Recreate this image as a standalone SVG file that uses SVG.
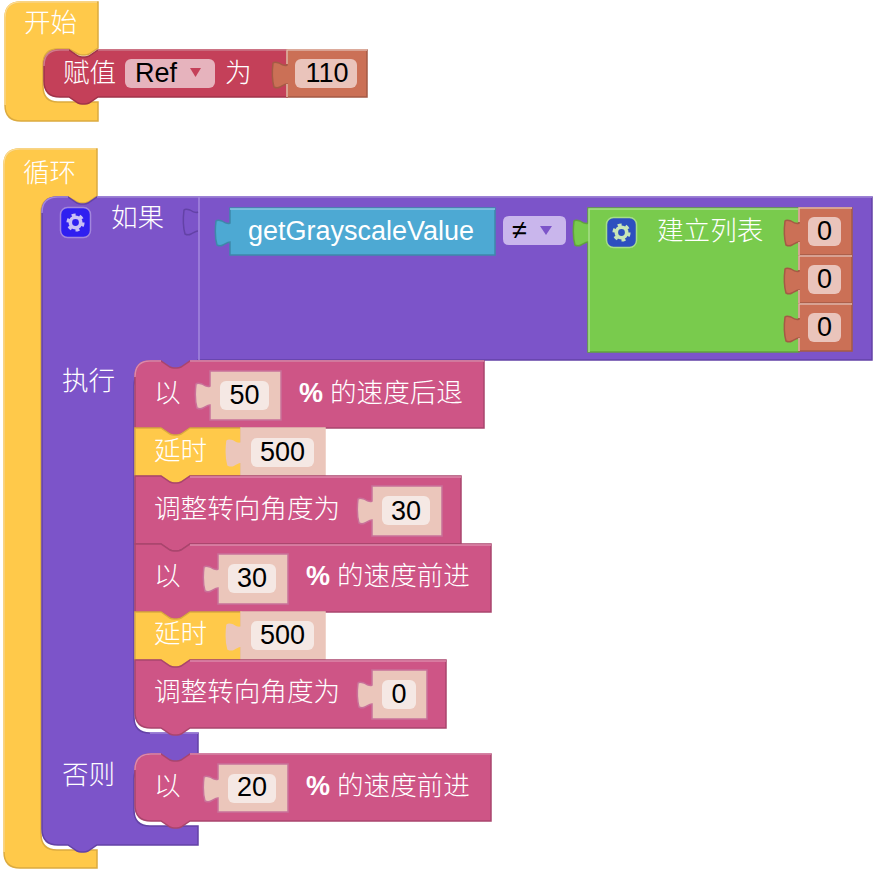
<svg xmlns="http://www.w3.org/2000/svg" width="878" height="873" viewBox="0 0 878 873">
<style>
text{font-family:"Noto Sans CJK SC","Liberation Sans",sans-serif;font-size:26.6px;font-weight:300;fill:#fff}
.l{font-family:"Liberation Sans","Noto Sans CJK SC",sans-serif;font-size:27px;font-weight:400;fill:#000}
.m{text-anchor:middle}
.b{font-weight:700}
path,rect{stroke-width:1.5}
.hl{fill:none;stroke-width:1.5}
.yel{fill:#ffc94a;stroke:#dcab3f}.yelh{stroke:#ffdb8a}
.red{fill:#c44059;stroke:#a03349}.redh{stroke:#d37a8a}
.pur{fill:#7c54c9;stroke:#6342a6}.purh{stroke:#a386dd}
.pnk{fill:#ce5586;stroke:#a9456d}.pnkh{stroke:#dd88aa}
.blu{fill:#4da9d3;stroke:#3e88aa}.bluh{stroke:#8ac7e3}
.grn{fill:#79cb4d;stroke:#60a33d}.grnh{stroke:#a6de88}
.org{fill:#cb7056;stroke:#a45a45}.orgh{stroke:#e8b9aa}
.pal{fill:#ebc6bb;stroke:#c9719a}
.palp{fill:#ebc6bb;stroke:#ebc6bb}
.f1{fill:#e6b3bd;stroke:none}.f2{fill:#eac4bb;stroke:none}.f3{fill:#f5e8e4;stroke:none}.f4{fill:#c9b6ec;stroke:none}
.sock{fill:none;stroke-width:1.5}
</style>
<defs>
<g id="gear" fill="none" stroke="currentColor">
<circle r="5.2" stroke-width="3.6"/>
<circle r="7.6" stroke-width="3" stroke-dasharray="3.9 4.05"/>
</g>
</defs>

<g id="start-block">
<path class="yel" d="M5 18Q5 2 21 2H98V48l-9 6q-2 1 -4 1h-3q-2 0 -4 -1l-9 -5H58Q43 49 43 65V86Q43 102 58 102H98V121H21Q5 121 5 105Z"/>
<path class="hl yelh" d="M5 105V18Q5 2 21 2H97"/>
<text x="24" y="32">开始</text>
</g>
<g id="set-ref">
<path class="red" d="M60 50H69l9 6q2 1 4 1h3q2 0 4 -1l9 -6H287V97H98l-9 6q-2 1 -4 1h-3q-2 0 -4 -1l-9 -6H60Q44 97 44 81V66Q44 50 60 50Z"/>
<path class="hl redh" d="M44 66Q44 50 60 50H69M98 50H287"/>
<text x="63" y="82">赋值</text>
<rect class="f1" x="125" y="59" width="90" height="29" rx="6"/>
<text class="l" x="135" y="82">Ref</text>
<path d="M190 68h11l-5.500 9Z" fill="#c44059" stroke="none"/>
<text x="225" y="82">为</text>
</g>
<g id="value-110">
<path class="org" d="M287 50V64v1c-2 1 -5 0 -8 -2c-3 -1 -5 -1 -6 0c-1 8 -1 17 1 24c2 1 4 1 6 0c2 -1 5 -3 7 -3V97H367V50Z"/>
<path class="hl orgh" d="M287 97V84M287 64V50H367"/>
<rect class="f2" x="295" y="59" width="62" height="29" rx="6"/>
<text class="l m" x="327" y="82">110</text>
</g>

<g id="loop-block">
<path class="yel" d="M4 165Q4 149 20 149H97V196l-9 6q-2 1 -4 1h-3q-2 0 -4 -1l-9 -5H57Q41 197 41 213V834Q41 850 57 850H97V868H20Q4 868 4 852Z"/>
<path class="hl yelh" d="M4 852V165Q4 149 20 149H96"/>
<text x="23" y="182">循环</text>
</g>

<g id="if-block">
<path class="pur" d="M58 197H68l9 6q2 1 4 1h3q2 0 4 -1l9 -6H872V360H198V370H150Q134 370 134 386V717Q134 733 150 733H198V763H150Q134 763 134 779V810Q134 826 150 826H198V845H97l-9 6q-2 1 -4 1h-3q-2 0 -4 -1l-9 -6H58Q42 845 42 829V213Q42 197 58 197Z"/>
<path class="hl purh" d="M42 213Q42 197 58 197H68M97 197H872M199 197V360M150 733H198"/>
<path class="sock" stroke="#6342a6" d="M198 212c-2 1 -5 0 -8 -2c-3 -1 -5 -1 -6 0c-1 8 -1 17 1 24c2 1 4 1 6 0c2 -1 5 -3 7 -3"/>
<rect x="60.500" y="207.500" width="30" height="30" rx="7" fill="#2f1ff0" stroke="#a386dd"/>
<use href="#gear" x="75.500" y="222.500" color="#c9c0f5"/>
<text x="111" y="227">如果</text>
<text x="62" y="390">执行</text>
<text x="62" y="784">否则</text>
<path d="M509 216h51q6 0 6 6v17q0 6 -6 6h-51q-6 0 -6 -6v-17q0 -6 6 -6Z" class="f4"/>
<text class="l" x="512" y="239">≠</text>
<path d="M540 226h12l-6 9Z" fill="#7c54c9" stroke="none"/>
</g>

<g id="get-grayscale">
<path class="blu" d="M230 208V222v1c-2 1 -5 0 -8 -2c-3 -1 -5 -1 -6 0c-1 8 -1 17 1 24c2 1 4 1 6 0c2 -1 5 -3 7 -3V255H495V208Z"/>
<path class="hl bluh" d="M230 209H495"/>
<text class="l" style="fill:#fff" x="248" y="240">getGrayscaleValue</text>
</g>

<g id="create-list">
<path class="grn" d="M588 208V222v1c-2 1 -5 0 -8 -2c-3 -1 -5 -1 -6 0c-1 8 -1 17 1 24c2 1 4 1 6 0c2 -1 5 -3 7 -3V352H799V208Z"/>
<path class="hl grnh" d="M589 352V209H799"/>
<rect x="606.500" y="217.500" width="30" height="30" rx="7" fill="#2d4fbf" stroke="#a6de88"/>
<use href="#gear" x="621.500" y="232.500" color="#c9e6b8"/>
<text x="657" y="240">建立列表</text>
</g>
<g id="list-item-1">
<path class="org" d="M799 208V222v1c-2 1 -5 0 -8 -2c-3 -1 -5 -1 -6 0c-1 8 -1 17 1 24c2 1 4 1 6 0c2 -1 5 -3 7 -3V255H852V208Z"/>
<path class="hl orgh" d="M799 255V242M799 222V208H852"/>
<rect class="f2" x="808" y="217" width="33" height="29" rx="6"/>
<text class="l m" x="824.500" y="240">0</text>
</g>
<g id="list-item-2">
<path class="org" d="M799 256V270v1c-2 1 -5 0 -8 -2c-3 -1 -5 -1 -6 0c-1 8 -1 17 1 24c2 1 4 1 6 0c2 -1 5 -3 7 -3V303H852V256Z"/>
<path class="hl orgh" d="M799 303V290M799 270V256H852"/>
<rect class="f2" x="808" y="265" width="33" height="29" rx="6"/>
<text class="l m" x="824.500" y="288">0</text>
</g>
<g id="list-item-3">
<path class="org" d="M799 304V318v1c-2 1 -5 0 -8 -2c-3 -1 -5 -1 -6 0c-1 8 -1 17 1 24c2 1 4 1 6 0c2 -1 5 -3 7 -3V351H852V304Z"/>
<path class="hl orgh" d="M799 351V338M799 318V304H852"/>
<rect class="f2" x="808" y="313" width="33" height="29" rx="6"/>
<text class="l m" x="824.500" y="336">0</text>
</g>

<g id="back-50">
<path class="pnk" d="M150 361H161l9 6q2 1 4 1h3q2 0 4 -1l9 -6H484V428H190l-9 6q-2 1 -4 1h-3q-2 0 -4 -1l-9 -6H135V377Q135 361 150 361Z"/>
<path class="hl pnkh" d="M135 377Q135 361 150 361H161M190 361H484"/>
<path class="pal" d="M210 371V385v1c-2 1 -5 0 -8 -2c-3 -1 -5 -1 -6 0c-1 8 -1 17 1 24c2 1 4 1 6 0c2 -1 5 -3 7 -3V420H281V371Z"/>
<rect class="f3" x="220" y="381" width="49" height="29" rx="6"/>
<text x="154" y="402">以</text>
<text class="l m" x="244.500" y="404">50</text>
<text class="l b" style="fill:#fff" x="299" y="402">%</text>
<text x="330" y="402">的速度后退</text>
</g>

<g id="delay-1">
<path class="yel" d="M135 428H161l9 6q2 1 4 1h3q2 0 4 -1l9 -6H241V476H190l-9 6q-2 1 -4 1h-3q-2 0 -4 -1l-9 -6H135Z"/>
<path class="palp" d="M241 428V442v1c-2 1 -5 0 -8 -2c-3 -1 -5 -1 -6 0c-1 8 -1 17 1 24c2 1 4 1 6 0c2 -1 5 -3 7 -3V476H325V428Z"/>
<rect class="f3" x="251" y="438" width="63" height="29" rx="6"/>
<text x="154" y="460">延时</text>
<text class="l m" x="282.500" y="461">500</text>
</g>

<g id="steer-30">
<path class="pnk" d="M135 476H161l9 6q2 1 4 1h3q2 0 4 -1l9 -6H461V544H190l-9 6q-2 1 -4 1h-3q-2 0 -4 -1l-9 -6H135Z"/>
<path class="hl pnkh" d="M190 477H461"/>
<path class="pal" d="M372 486V500v1c-2 1 -5 0 -8 -2c-3 -1 -5 -1 -6 0c-1 8 -1 17 1 24c2 1 4 1 6 0c2 -1 5 -3 7 -3V536H442V486Z"/>
<rect class="f3" x="382" y="496" width="48" height="29" rx="6"/>
<text x="154" y="518">调整转向角度为</text>
<text class="l m" x="406" y="520">30</text>
</g>

<g id="forward-30">
<path class="pnk" d="M135 544H161l9 6q2 1 4 1h3q2 0 4 -1l9 -6H491V612H190l-9 6q-2 1 -4 1h-3q-2 0 -4 -1l-9 -6H135Z"/>
<path class="hl pnkh" d="M190 545H491"/>
<path class="pal" d="M218 554V568v1c-2 1 -5 0 -8 -2c-3 -1 -5 -1 -6 0c-1 8 -1 17 1 24c2 1 4 1 6 0c2 -1 5 -3 7 -3V604H288V554Z"/>
<rect class="f3" x="228" y="564" width="48" height="29" rx="6"/>
<text x="154" y="585">以</text>
<text class="l m" x="252" y="587">30</text>
<text class="l b" style="fill:#fff" x="306" y="585">%</text>
<text x="337" y="585">的速度前进</text>
</g>

<g id="delay-2">
<path class="yel" d="M135 612H161l9 6q2 1 4 1h3q2 0 4 -1l9 -6H241V660H190l-9 6q-2 1 -4 1h-3q-2 0 -4 -1l-9 -6H135Z"/>
<path class="palp" d="M241 612V626v1c-2 1 -5 0 -8 -2c-3 -1 -5 -1 -6 0c-1 8 -1 17 1 24c2 1 4 1 6 0c2 -1 5 -3 7 -3V660H325V612Z"/>
<rect class="f3" x="251" y="621" width="63" height="29" rx="6"/>
<text x="154" y="643">延时</text>
<text class="l m" x="282.500" y="644">500</text>
</g>

<g id="steer-0">
<path class="pnk" d="M135 660H161l9 6q2 1 4 1h3q2 0 4 -1l9 -6H446V728H190l-9 6q-2 1 -4 1h-3q-2 0 -4 -1l-9 -6H151Q135 728 135 712Z"/>
<path class="hl pnkh" d="M190 661H446"/>
<path class="pal" d="M372 670V684v1c-2 1 -5 0 -8 -2c-3 -1 -5 -1 -6 0c-1 8 -1 17 1 24c2 1 4 1 6 0c2 -1 5 -3 7 -3V719H427V670Z"/>
<rect class="f3" x="382" y="680" width="34" height="29" rx="6"/>
<text x="154" y="701">调整转向角度为</text>
<text class="l m" x="399" y="703">0</text>
</g>

<g id="forward-20">
<path class="pnk" d="M151 754H161l9 6q2 1 4 1h3q2 0 4 -1l9 -6H491V821H190l-9 6q-2 1 -4 1h-3q-2 0 -4 -1l-9 -6H151Q135 821 135 805V770Q135 754 151 754Z"/>
<path class="hl pnkh" d="M135 770Q135 754 151 754H161M190 754H491"/>
<path class="pal" d="M218 764V778v1c-2 1 -5 0 -8 -2c-3 -1 -5 -1 -6 0c-1 8 -1 17 1 24c2 1 4 1 6 0c2 -1 5 -3 7 -3V812H288V764Z"/>
<rect class="f3" x="228" y="774" width="48" height="29" rx="6"/>
<text x="154" y="795">以</text>
<text class="l m" x="252" y="796">20</text>
<text class="l b" style="fill:#fff" x="306" y="795">%</text>
<text x="337" y="795">的速度前进</text>
</g>
</svg>
